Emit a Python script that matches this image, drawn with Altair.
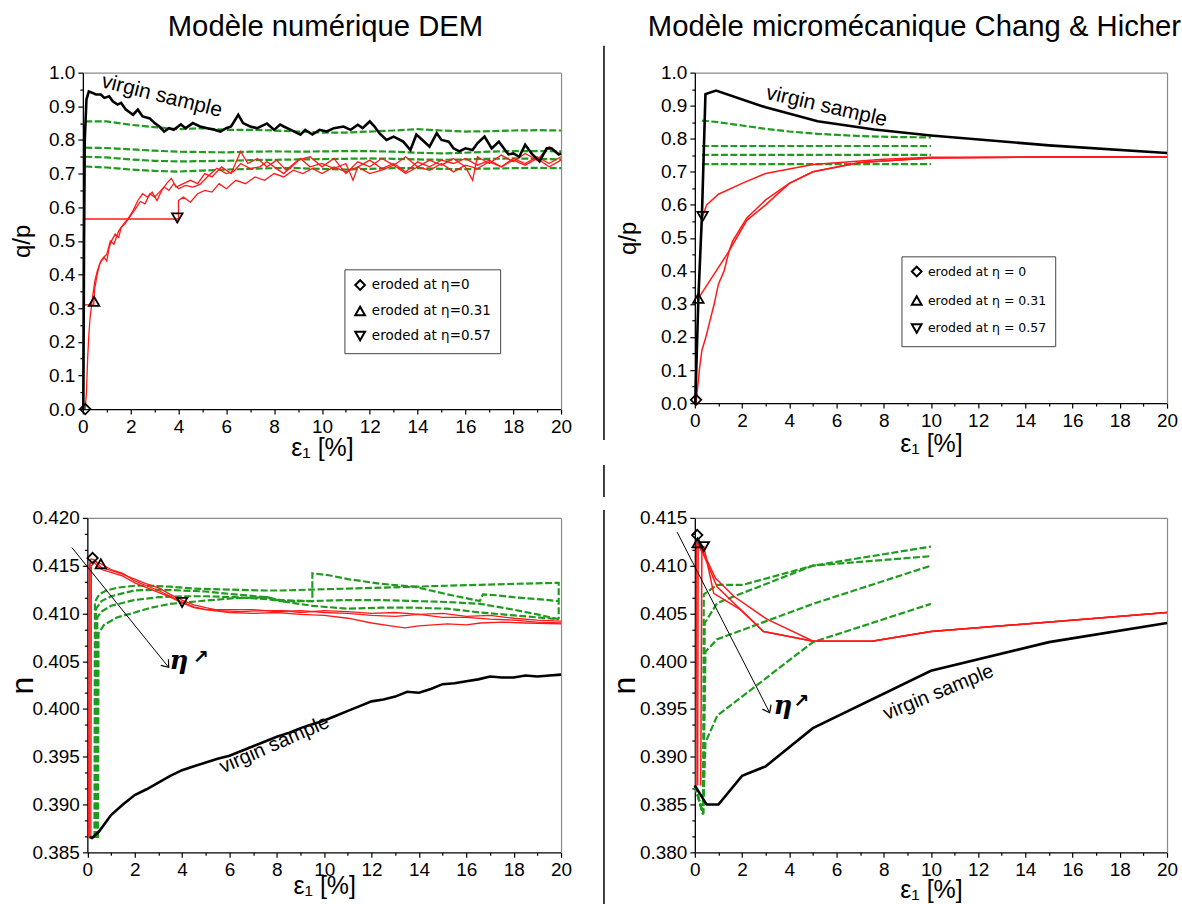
import altair as alt
import pandas as pd

FONT = "Liberation Sans"
GREEN = "#1f9b1f"
RED = "#ff1a1a"

# ---------------- tick values ----------------
X_TICKS = [0, 2, 4, 6, 8, 10, 12, 14, 16, 18, 20]
X_MINOR = [1, 3, 5, 7, 9, 11, 13, 15, 17, 19]
QP_TICKS = [0.0, 0.1, 0.2, 0.3, 0.4, 0.5, 0.6, 0.7, 0.8, 0.9, 1.0]
QP_MINOR = [0.05, 0.15, 0.25, 0.35, 0.45, 0.55, 0.65, 0.75, 0.85, 0.95]
N3_TICKS = [0.385, 0.390, 0.395, 0.400, 0.405, 0.410, 0.415, 0.420]
N3_MINOR = [0.38667, 0.38833, 0.39167, 0.39333, 0.39667, 0.39833, 0.40167,
            0.40333, 0.40667, 0.40833, 0.41167, 0.41333, 0.41667, 0.41833]
N4_TICKS = [0.380, 0.385, 0.390, 0.395, 0.400, 0.405, 0.410, 0.415]
N4_MINOR = [0.38167, 0.38333, 0.38667, 0.38833, 0.39167, 0.39333, 0.39667,
            0.39833, 0.40167, 0.40333, 0.40667, 0.40833, 0.41167, 0.41333]

# ---------------- Panel A : DEM, q/p ----------------
A_black = [(0.02, 0.0), (0.05, 0.5), (0.08, 0.8), (0.15, 0.92), (0.25, 0.944), (0.4, 0.94),
           (0.55, 0.935), (0.75, 0.935), (0.9, 0.925), (1.1, 0.93), (1.25, 0.915), (1.45, 0.905),
           (1.6, 0.91), (1.8, 0.89), (2.1, 0.875), (2.3, 0.89), (2.5, 0.87), (2.8, 0.864),
           (3.0, 0.85), (3.2, 0.84), (3.4, 0.825), (3.6, 0.835), (3.8, 0.83), (4.1, 0.846),
           (4.3, 0.835), (4.6, 0.85), (4.9, 0.84), (5.2, 0.835), (5.5, 0.83), (5.75, 0.825),
           (6.0, 0.835), (6.2, 0.84), (6.5, 0.875), (6.7, 0.85), (7.0, 0.84), (7.3, 0.835),
           (7.7, 0.849), (8.0, 0.83), (8.25, 0.846), (8.4, 0.84), (8.7, 0.83), (9.1, 0.816),
           (9.3, 0.83), (9.6, 0.816), (9.9, 0.83), (10.2, 0.825), (10.5, 0.835), (10.9, 0.84),
           (11.2, 0.83), (11.5, 0.845), (11.7, 0.835), (12.0, 0.855), (12.2, 0.84), (12.4, 0.82),
           (12.7, 0.80), (13.0, 0.81), (13.4, 0.795), (13.7, 0.77), (13.95, 0.816), (14.2, 0.80),
           (14.5, 0.78), (14.8, 0.82), (15.0, 0.80), (15.3, 0.795), (15.5, 0.775), (15.75, 0.766),
           (16.0, 0.775), (16.3, 0.77), (16.5, 0.79), (16.8, 0.81), (17.1, 0.775), (17.4, 0.795),
           (17.8, 0.757), (18.0, 0.76), (18.25, 0.75), (18.5, 0.786), (18.8, 0.757), (19.1, 0.736),
           (19.4, 0.775), (19.6, 0.775), (19.9, 0.757), (20.0, 0.76)]
A_green1 = [(0.1, 0.855), (1, 0.855), (2, 0.845), (3, 0.838), (4, 0.832), (5, 0.835), (6, 0.83),
            (7, 0.83), (8, 0.828), (9, 0.825), (10, 0.822), (11, 0.822), (12, 0.825), (13, 0.828),
            (14, 0.832), (15, 0.828), (16, 0.825), (17, 0.826), (18, 0.828), (19, 0.829), (20, 0.828)]
A_green2 = [(0.1, 0.777), (1, 0.776), (2, 0.772), (3, 0.768), (4, 0.765), (5, 0.764), (6, 0.763),
            (7, 0.765), (8, 0.766), (9, 0.765), (10, 0.766), (11, 0.767), (12, 0.767), (13, 0.765),
            (14, 0.762), (15, 0.76), (16, 0.762), (17, 0.765), (18, 0.767), (19, 0.767), (20, 0.766)]
A_green3 = [(0.1, 0.75), (1, 0.748), (2, 0.742), (3, 0.738), (4, 0.736), (5, 0.737), (6, 0.738),
            (7, 0.74), (8, 0.741), (9, 0.742), (10, 0.743), (11, 0.744), (12, 0.745), (13, 0.744),
            (14, 0.742), (15, 0.741), (16, 0.742), (17, 0.744), (18, 0.745), (19, 0.744), (20, 0.742)]
A_green4 = [(0.1, 0.721), (1, 0.718), (2, 0.712), (3, 0.708), (4, 0.706), (5, 0.709), (6, 0.712),
            (7, 0.714), (8, 0.716), (9, 0.716), (10, 0.714), (11, 0.712), (12, 0.714), (13, 0.716),
            (14, 0.716), (15, 0.714), (16, 0.713), (17, 0.715), (18, 0.716), (19, 0.717), (20, 0.716)]
A_red0 = [(0.1, 0.0), (0.15, 0.05), (0.2, 0.15), (0.25, 0.22), (0.3, 0.27), (0.4, 0.33), (0.5, 0.38),
          (0.6, 0.41), (0.75, 0.44), (0.9, 0.45), (1.0, 0.44), (1.1, 0.48), (1.2, 0.50), (1.35, 0.52),
          (1.5, 0.51), (1.6, 0.54), (1.75, 0.55), (1.9, 0.565), (2.05, 0.58), (2.2, 0.595), (2.4, 0.617),
          (2.6, 0.61), (2.8, 0.64), (3.0, 0.63), (3.2, 0.645), (3.4, 0.66), (3.6, 0.65), (3.8, 0.67),
          (4.0, 0.655), (4.3, 0.665), (4.6, 0.66), (4.9, 0.668), (5.2, 0.69), (5.6, 0.716), (6.0, 0.70),
          (6.3, 0.706), (6.6, 0.73), (7.0, 0.715), (7.4, 0.72), (7.7, 0.736), (8.0, 0.72), (8.4, 0.70),
          (8.8, 0.725), (9.1, 0.745), (9.5, 0.72), (10, 0.73), (10.5, 0.715), (11, 0.73), (11.3, 0.68),
          (11.5, 0.72), (12, 0.74), (12.5, 0.715), (13, 0.73), (13.5, 0.705), (14, 0.735), (14.5, 0.72),
          (15, 0.74), (15.5, 0.73), (16, 0.745), (16.5, 0.725), (17, 0.74), (17.5, 0.72), (18, 0.745),
          (18.5, 0.73), (19, 0.75), (19.5, 0.73), (20, 0.75)]
A_red31 = [(0.0, 0.31), (0.45, 0.31), (0.5, 0.36), (0.6, 0.40), (0.7, 0.43), (0.85, 0.45), (1.0, 0.46),
           (1.15, 0.50), (1.3, 0.49), (1.5, 0.53), (1.7, 0.55), (1.9, 0.567), (2.1, 0.59), (2.3, 0.62),
           (2.5, 0.64), (2.7, 0.63), (2.9, 0.645), (3.1, 0.62), (3.3, 0.65), (3.5, 0.67), (3.7, 0.686),
           (3.9, 0.66), (4.2, 0.67), (4.5, 0.68), (4.8, 0.67), (5.1, 0.70), (5.4, 0.69), (5.8, 0.72),
           (6.2, 0.70), (6.6, 0.766), (6.9, 0.73), (7.3, 0.745), (7.7, 0.72), (8.1, 0.74), (8.5, 0.71),
           (9, 0.74), (9.5, 0.75), (10, 0.72), (10.5, 0.745), (11, 0.70), (11.5, 0.735), (12, 0.72),
           (12.5, 0.745), (13, 0.725), (13.5, 0.75), (14, 0.72), (14.5, 0.74), (15, 0.725), (15.5, 0.745),
           (16, 0.72), (16.3, 0.68), (16.5, 0.75), (17, 0.73), (17.5, 0.755), (18, 0.735), (18.5, 0.76),
           (19, 0.74), (19.5, 0.78), (20, 0.755)]
A_red57 = [(0.0, 0.565), (4.0, 0.565), (4.0, 0.62), (4.2, 0.63), (4.5, 0.615), (4.8, 0.64), (5.1, 0.65),
           (5.4, 0.645), (5.7, 0.67), (6.0, 0.655), (6.4, 0.68), (6.8, 0.67), (7.2, 0.69), (7.6, 0.68),
           (8.0, 0.70), (8.4, 0.69), (8.8, 0.71), (9.2, 0.70), (9.6, 0.715), (10, 0.70), (10.5, 0.72),
           (11, 0.705), (11.5, 0.72), (12, 0.70), (12.5, 0.71), (13, 0.725), (13.5, 0.70), (14, 0.72),
           (14.5, 0.71), (15, 0.73), (15.5, 0.705), (16, 0.725), (16.5, 0.715), (17, 0.735), (17.5, 0.72),
           (18, 0.74), (18.5, 0.725), (19, 0.745), (19.5, 0.72), (20, 0.74)]
A_marks = [(0.1, 0.0), (0.47, 0.32), (3.95, 0.568)]

# ---------------- Panel B : Chang & Hicher, q/p ----------------
B_black = [(0.02, 0.0), (0.15, 0.317), (0.3, 0.565), (0.45, 0.935), (0.9, 0.946), (3.0, 0.895),
           (5.2, 0.853), (7.6, 0.828), (10, 0.81), (15, 0.78), (20, 0.757)]
B_green1 = [(0.3, 0.855), (1.0, 0.85), (2.0, 0.84), (3.0, 0.83), (4.0, 0.822), (5.2, 0.815),
            (7.0, 0.808), (8.7, 0.805), (10, 0.804)]
B_green2 = [(0.3, 0.778), (10, 0.778)]
B_green3 = [(0.3, 0.751), (10, 0.751)]
B_green4 = [(0.3, 0.723), (10, 0.723)]
B_red0 = [(0.05, 0.0), (0.2, 0.105), (0.3, 0.16), (0.47, 0.2), (0.82, 0.30), (1.0, 0.36), (1.24, 0.40),
          (1.45, 0.46), (2.2, 0.553), (3.0, 0.60), (4.0, 0.665), (5.0, 0.70), (7.0, 0.728), (10, 0.742),
          (15, 0.745), (20, 0.745)]
B_red31 = [(0.15, 0.317), (1.45, 0.46), (1.6, 0.49), (2.2, 0.56), (3.0, 0.615), (4.0, 0.665), (5.0, 0.70),
           (7.0, 0.728), (10, 0.742), (15, 0.745), (20, 0.745)]
B_red57 = [(0.33, 0.565), (0.5, 0.60), (1.0, 0.632), (2.0, 0.665), (3.0, 0.695), (5.0, 0.722),
           (8.0, 0.738), (10, 0.744), (20, 0.745)]
B_marks = [(0.05, 0.01), (0.15, 0.317), (0.33, 0.565)]

# ---------------- Panel C : DEM, porosity n ----------------
C_black = [(0.1, 0.3866), (0.2, 0.3865), (0.5, 0.3872), (1, 0.3889), (1.5, 0.3900), (2, 0.3910),
           (2.5, 0.3916), (3, 0.3923), (3.5, 0.3930), (4, 0.3936), (4.5, 0.3940), (5, 0.3944),
           (5.5, 0.3948), (6, 0.3951), (6.5, 0.3956), (7, 0.3961), (7.5, 0.3966), (8, 0.3971),
           (8.5, 0.3975), (9, 0.3980), (9.5, 0.3984), (10, 0.3988), (10.5, 0.3993), (11, 0.3998),
           (11.5, 0.4003), (12, 0.4008), (12.5, 0.4010), (13, 0.4013), (13.5, 0.4018), (14, 0.4017),
           (14.5, 0.4021), (15, 0.4026), (15.5, 0.4027), (16, 0.4029), (16.5, 0.4031), (17, 0.4034),
           (17.5, 0.4033), (18, 0.4033), (18.5, 0.4035), (19, 0.4034), (19.5, 0.4035), (20, 0.4036)]
C_red1 = [(0.05, 0.3865), (0.08, 0.4150), (0.15, 0.4157), (0.3, 0.4156), (0.6, 0.4148), (1.0, 0.4145),
          (1.5, 0.4141), (2.0, 0.4136), (2.5, 0.4131), (3.0, 0.4127), (3.5, 0.4120), (4.0, 0.4114),
          (4.5, 0.4109), (5.0, 0.4106), (5.6, 0.4103), (6.5, 0.4102), (7.5, 0.4103), (8.3, 0.4103),
          (9, 0.4101), (10, 0.4103), (11, 0.4102), (12, 0.4100), (13, 0.4101), (14, 0.4099),
          (15, 0.4100), (16, 0.4097), (17, 0.4098), (18, 0.4095), (19, 0.4093), (20, 0.4092)]
C_red2 = [(0.1, 0.3865), (0.12, 0.4152), (0.25, 0.4155), (0.57, 0.4152), (1.0, 0.4146), (1.5, 0.4142),
          (2.0, 0.4134), (2.5, 0.4129), (3.0, 0.4124), (3.5, 0.4118), (4.0, 0.4112), (4.5, 0.4107),
          (5.0, 0.4104), (6, 0.4101), (7, 0.4100), (8, 0.4101), (9, 0.4099), (10, 0.4098), (11, 0.4095),
          (12, 0.4090), (12.8, 0.4087), (13.4, 0.4085), (14, 0.4087), (14.6, 0.4088), (15.2, 0.4089),
          (16, 0.4088), (16.6, 0.4090), (17.5, 0.4091), (18.5, 0.4090), (20, 0.4089)]
C_red3 = [(0.15, 0.3865), (0.17, 0.4150), (0.3, 0.4153), (0.6, 0.4146), (1.0, 0.4143), (1.5, 0.4139),
          (2.0, 0.4132), (2.5, 0.4127), (3.0, 0.4122), (3.5, 0.4117), (4.0, 0.4111), (4.5, 0.4106),
          (5.0, 0.4104), (6, 0.4104), (7, 0.4104), (8, 0.4102), (9, 0.4103), (10, 0.4101), (11, 0.4100),
          (12, 0.4098), (13, 0.4097), (14, 0.4099), (15, 0.4096), (16, 0.4096), (17, 0.4094),
          (18, 0.4093), (19, 0.4091), (20, 0.4090)]
C_green1 = [(0.3, 0.3865), (0.32, 0.4112), (0.5, 0.4120), (0.8, 0.4124), (1.27, 0.4127), (2, 0.4129),
            (2.67, 0.4129), (3.5, 0.4128), (4.5, 0.4126), (6, 0.4125), (7.5, 0.4124), (8.15, 0.4124),
            (9.5, 0.4125), (11, 0.4126), (12.4, 0.4127), (13.8, 0.4128), (15.2, 0.4129), (16.6, 0.4130),
            (18, 0.4131), (19.9, 0.4132), (19.9, 0.4094)]
C_green2 = [(0.35, 0.3865), (0.37, 0.4105), (0.6, 0.4113), (1.0, 0.4118), (1.97, 0.4124), (3, 0.4125),
            (4, 0.4124), (5, 0.4123), (6.2, 0.4120), (7.6, 0.4117), (8.15, 0.4114), (9.5, 0.4113),
            (9.5, 0.4142), (10.2, 0.4140), (11, 0.4136), (12.4, 0.4131), (13.8, 0.4128), (14.5, 0.4124),
            (15.2, 0.4120), (16.57, 0.4113), (16.7, 0.4120), (17.3, 0.4119), (18, 0.4117), (19, 0.4115),
            (19.9, 0.4113)]
C_green3 = [(0.4, 0.3865), (0.42, 0.4096), (0.6, 0.4102), (1.0, 0.4108), (1.97, 0.4114), (3, 0.4117),
            (4.08, 0.4118), (5, 0.4118), (6.2, 0.4117), (7.6, 0.4115), (8.15, 0.4113), (9.5, 0.4113),
            (11, 0.4114), (12.4, 0.4114), (13.8, 0.4113), (15.2, 0.4112), (16.6, 0.4110), (18, 0.4104),
            (19, 0.4099), (19.9, 0.4094)]
C_green4 = [(0.45, 0.3865), (0.47, 0.4079), (0.7, 0.4088), (1.27, 0.4096), (2, 0.4101), (2.67, 0.4106),
            (3.5, 0.4110), (4.78, 0.4113), (6.2, 0.4116), (7.59, 0.4117), (8.15, 0.4113), (9.5, 0.4108),
            (11, 0.4105), (12.4, 0.4106), (13.8, 0.4106), (15.2, 0.4105), (16.6, 0.4101), (18, 0.4098),
            (19.9, 0.4094)]
C_marks = [(0.22, 0.4158), (0.57, 0.4152), (4.0, 0.41115)]
C_arrow = [(-0.653, 0.4169), (3.435, 0.40436)]

# ---------------- Panel D : Chang & Hicher, porosity n ----------------
D_black = [(0.0, 0.387), (0.5, 0.385), (1, 0.385), (2, 0.388), (3, 0.389), (5, 0.393), (10, 0.399),
           (15, 0.402), (20, 0.404)]
D_red0 = [(0.05, 0.387), (0.07, 0.4125), (0.38, 0.4113), (0.87, 0.4087), (1.65, 0.4068), (3.05, 0.4044),
          (5.02, 0.4021), (7.5, 0.4021), (10, 0.4031), (20, 0.4051)]
D_red31 = [(0.12, 0.387), (0.14, 0.4122), (0.4, 0.4110), (0.94, 0.4078), (2.07, 0.4051), (2.91, 0.4031),
           (5.02, 0.4021), (7.5, 0.4021), (10, 0.4031), (20, 0.4051)]
D_red57 = [(0.25, 0.387), (0.3, 0.4120), (0.38, 0.4120), (0.8, 0.4071), (1.93, 0.4054), (2.91, 0.4031),
           (5.02, 0.4021), (7.5, 0.4021), (10, 0.4031), (20, 0.4051)]
D_green1 = [(0.0, 0.387), (0.35, 0.384), (0.38, 0.407), (0.95, 0.408), (2.05, 0.408), (5.0, 0.410), (10, 0.411)]
D_green2 = [(0.0, 0.387), (0.35, 0.384), (0.42, 0.404), (0.95, 0.4061), (5.0, 0.410), (10, 0.412)]
D_green3 = [(0.0, 0.387), (0.35, 0.384), (0.45, 0.401), (0.95, 0.4023), (5.0, 0.406), (10, 0.410)]
D_green4 = [(0.0, 0.387), (0.35, 0.384), (0.45, 0.3915), (0.95, 0.3943), (5.0, 0.402), (10, 0.406)]
D_marks = [(0.1, 0.4132), (0.12, 0.4124), (0.38, 0.4120)]
D_arrow = [(-0.75, 0.41351), (3.17, 0.39461)]

SHAPES = ["diamond", "triangle-up", "triangle-down"]
LEG_A = ["eroded at η=0", "eroded at η=0.31", "eroded at η=0.57"]
LEG_B = ["eroded at η = 0", "eroded at η = 0.31", "eroded at η = 0.57"]


def to_df(named):
    rows = []
    for name, pts in named:
        for k, (a, b) in enumerate(pts):
            rows.append({"x": a, "y": b, "s": name, "i": k})
    return pd.DataFrame(rows)


def one(**kw):
    return pd.DataFrame({k: [v] for k, v in kw.items()})


def make_panel(black, reds, greens, marks, labels, ydom, yticks, yminor, yfmt, w, h,
               ytitle, ytitle_size, ytitle_x, xtitle_y, legend, vs, extras,
               xrange=None, yoffset=0, title=None, red_w=1.3):
    xsk = dict(domain=[0, 20], nice=False, zero=False)
    if xrange is not None:
        xsk["range"] = xrange
    xs = alt.Scale(**xsk)
    ys = alt.Scale(domain=ydom, nice=False, zero=False)

    common = dict(grid=False, labelFont=FONT, labelFontSize=19, labelColor="black",
                  labelFlush=False, labelOverlap=False, tickColor="black", tickWidth=1.2,
                  domainColor="black", domainWidth=1.3, titleFont=FONT,
                  titleFontWeight="normal", titleColor="black")
    x_main = alt.Axis(orient="bottom", values=X_TICKS, format="d", title="ε₁ [%]",
                      titleFontSize=25, titleY=xtitle_y, titleBaseline="middle",
                      tickSize=5, labelPadding=3, **common)
    y_main = alt.Axis(orient="left", values=yticks, format=yfmt, title=ytitle,
                      titleFontSize=ytitle_size, titleX=ytitle_x, titleY=h / 2,
                      titleAngle=270, titleAlign="center", titleBaseline="middle",
                      tickSize=5, labelPadding=3, offset=yoffset, **common)
    x_min = alt.Axis(orient="bottom", values=X_MINOR, labels=False, title=None, domain=False,
                     grid=False, tickSize=3, tickColor="black", tickWidth=1.2)
    y_min = alt.Axis(orient="left", values=yminor, labels=False, title=None, domain=False,
                     grid=False, tickSize=3, tickColor="black", tickWidth=1.2, offset=yoffset)
    x_top = alt.Axis(orient="top", labels=False, ticks=False, title=None, grid=False,
                     domainColor="#8a8a8a", domainWidth=1.2)
    y_right = alt.Axis(orient="right", labels=False, ticks=False, title=None, grid=False,
                       domainColor="#8a8a8a", domainWidth=1.2)

    bdf = to_df([("virgin", black)])
    rdf = to_df(reds)
    gdf = to_df(greens)

    frame = alt.Chart(bdf).mark_point(opacity=0).encode(
        x=alt.X("x:Q", scale=xs, axis=x_top), y=alt.Y("y:Q", scale=ys, axis=y_right))
    minor = alt.Chart(bdf).mark_point(opacity=0).encode(
        x=alt.X("x:Q", scale=xs, axis=x_min), y=alt.Y("y:Q", scale=ys, axis=y_min))
    green = alt.Chart(gdf).mark_line(color=GREEN, strokeWidth=2.2, strokeDash=[7, 2.5]).encode(
        x=alt.X("x:Q", scale=xs, axis=x_main), y=alt.Y("y:Q", scale=ys, axis=y_main),
        detail="s:N", order="i:Q")
    red = alt.Chart(rdf).mark_line(color=RED, strokeWidth=red_w).encode(
        x=alt.X("x:Q", scale=xs, axis=None), y=alt.Y("y:Q", scale=ys, axis=None),
        detail="s:N", order="i:Q")
    blk = alt.Chart(bdf).mark_line(color="black", strokeWidth=2.6).encode(
        x=alt.X("x:Q", scale=xs, axis=None), y=alt.Y("y:Q", scale=ys, axis=None), order="i:Q")

    mdf = pd.DataFrame({"x": [p[0] for p in marks], "y": [p[1] for p in marks], "lab": labels})
    mk = alt.Chart(mdf).mark_point(filled=False, color="black", strokeWidth=1.8, size=110,
                                   opacity=1).encode(
        x=alt.X("x:Q", scale=xs, axis=None), y=alt.Y("y:Q", scale=ys, axis=None),
        shape=alt.Shape("lab:N", scale=alt.Scale(domain=labels, range=SHAPES),
                        legend=legend))

    vx, vy, vang, vsize = vs
    vtxt = alt.Chart(one(x=vx, y=vy, t="virgin sample")).mark_text(
        font=FONT, fontSize=vsize, angle=vang, color="black", align="center",
        baseline="middle").encode(
        x=alt.X("x:Q", scale=xs, axis=None), y=alt.Y("y:Q", scale=ys, axis=None), text="t:N")

    layers = [frame, minor, green, red, blk, mk, vtxt]
    for e in extras:
        layers.append(e(xs, ys))
    props = dict(width=w, height=h)
    if title is not None:
        props["title"] = title
    return alt.layer(*layers).properties(**props).resolve_axis(x="independent", y="independent")


def rule_extra(x, y, y2):
    def f(xs, ys):
        return alt.Chart(one(k=0)).mark_rule(color="black", strokeWidth=1.5).encode(
            x=alt.value(x), y=alt.value(y), y2=alt.value(y2))
    return f


def arrow_extra(pts, ang, eta, up):
    def f(xs, ys):
        adf = pd.DataFrame({"x": [p[0] for p in pts], "y": [p[1] for p in pts], "i": [0, 1]})
        line = alt.Chart(adf).mark_line(color="black", strokeWidth=1).encode(
            x=alt.X("x:Q", scale=xs, axis=None), y=alt.Y("y:Q", scale=ys, axis=None), order="i:Q")
        head = alt.Chart(adf.iloc[[1]]).mark_point(
            shape="M-1,-0.75L0,0L-1,0.75", filled=False, color="black", strokeWidth=1.2,
            size=170, angle=ang, opacity=1).encode(
            x=alt.X("x:Q", scale=xs, axis=None), y=alt.Y("y:Q", scale=ys, axis=None))
        t1 = alt.Chart(one(x=eta[0], y=eta[1], t="η")).mark_text(
            font="DejaVu Serif", fontStyle="italic", fontWeight="bold", fontSize=26,
            color="black").encode(
            x=alt.X("x:Q", scale=xs, axis=None), y=alt.Y("y:Q", scale=ys, axis=None), text="t:N")
        t2 = alt.Chart(one(x=up[0], y=up[1], t="↗")).mark_text(
            font="DejaVu Sans", fontWeight="bold", fontSize=19, color="black").encode(
            x=alt.X("x:Q", scale=xs, axis=None), y=alt.Y("y:Q", scale=ys, axis=None), text="t:N")
        return alt.layer(line, head, t1, t2)
    return f


def legend_for(labels, lx, ly, size, rowpad):
    return alt.Legend(orient="none", legendX=lx, legendY=ly, title=None, strokeColor="#444",
                      fillColor="white", padding=9, labelFont="DejaVu Sans", labelFontSize=size,
                      labelColor="black", symbolSize=95, symbolStrokeWidth=2,
                      symbolStrokeColor="black", symbolFillColor="white", rowPadding=rowpad,
                      labelOffset=5, cornerRadius=0, values=labels)


TITLE_A = alt.TitleParams(text="Modèle numérique DEM", font=FONT, fontSize=29.3,
                          fontWeight="normal", color="black", anchor="middle", frame="group",
                          dx=3.5, offset=21)
TITLE_B = alt.TitleParams(text="Modèle micromécanique Chang & Hicher", font=FONT, fontSize=29.3,
                          fontWeight="normal", color="black", anchor="middle", frame="group",
                          dx=-16.5, offset=21)

pA = make_panel(A_black, [("r0", A_red0), ("r31", A_red31), ("r57", A_red57)],
                [("g1", A_green1), ("g2", A_green2), ("g3", A_green3), ("g4", A_green4)],
                A_marks, LEG_A, [0, 1], QP_TICKS, QP_MINOR, ".1f", 479, 337,
                "q/p", 24, -60, 38, legend_for(LEG_A, 262, 197, 13.5, 8),
                (3.3, 0.93, 14, 21), [], title=TITLE_A)
pB = make_panel(B_black, [("r0", B_red0), ("r31", B_red31), ("r57", B_red57)],
                [("g1", B_green1), ("g2", B_green2), ("g3", B_green3), ("g4", B_green4)],
                B_marks, LEG_B, [0, 1], QP_TICKS, QP_MINOR, ".1f", 473, 331,
                "q/p", 24, -66, 40, legend_for(LEG_B, 207, 184, 12.5, 11),
                (5.58, 0.897, 13, 21), [], title=TITLE_B, red_w=1.5)
pC = make_panel(C_black, [("r1", C_red1), ("r2", C_red2), ("r3", C_red3)],
                [("g1", C_green1), ("g2", C_green2), ("g3", C_green3), ("g4", C_green4)],
                C_marks, LEG_A, [0.385, 0.420], N3_TICKS, N3_MINOR, ".3f", 479, 335,
                "n", 32, -64.5, 33, None, (7.9, 0.39628, 336.5, 20),
                [arrow_extra(C_arrow, 51, (3.87, 0.40506), (4.78, 0.40540))],
                xrange=[4.5, 479], yoffset=-4.5)
pD = make_panel(D_black, [("r0", D_red0), ("r31", D_red31), ("r57", D_red57)],
                [("g1", D_green1), ("g2", D_green2), ("g3", D_green3), ("g4", D_green4)],
                D_marks, LEG_A, [0.380, 0.415], N4_TICKS, N4_MINOR, ".3f", 473, 335,
                "n", 32, -70, 37, None, (10.32, 0.39673, 337.7, 20),
                [arrow_extra(D_arrow, 63, (3.73, 0.39530), (4.51, 0.39582)),
                 rule_extra(-91, -473, -78), rule_extra(-91, -53, -21), rule_extra(-91, -8, 400)],
                red_w=1.5)

chart = alt.concat(pA, pB, pC, pD, columns=2, spacing={"row": 109, "column": 134},
                   bounds="flush", align="all").resolve_scale(shape="independent").properties(
    padding={"left": 7, "top": 12, "right": 0, "bottom": 0}, background="white"
).configure_view(stroke=None)

chart.save("out.html", embed_options={"renderer": "svg", "actions": False})
